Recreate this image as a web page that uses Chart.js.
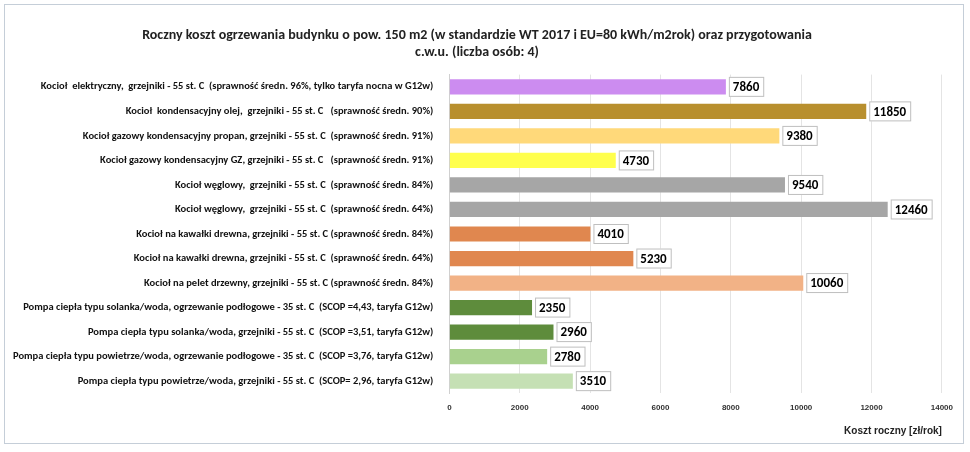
<!DOCTYPE html>
<html>
<head>
<meta charset="utf-8">
<script src="https://cdn.jsdelivr.net/npm/chart.js@4"></script>
<style>
body{margin:0;background:#fff;}
#wrap{position:absolute;left:4px;top:4px;width:960px;height:440px;border:1px solid #c5ced8;box-sizing:border-box;}
</style>
</head>
<body>
<div id="wrap"><canvas id="myChart"></canvas></div>
<script>
// dane wykresu
var categories = [
  'Kocioł  elektryczny,  grzejniki - 55 st. C  (sprawność średn. 96%, tylko taryfa nocna w G12w)',
  'Kocioł  kondensacyjny olej,  grzejniki - 55 st. C   (sprawność średn. 90%)',
  'Kocioł gazowy kondensacyjny propan, grzejniki - 55 st. C  (sprawność średn. 91%)',
  'Kocioł gazowy kondensacyjny GZ, grzejniki - 55 st. C   (sprawność średn. 91%)',
  'Kocioł węglowy,  grzejniki - 55 st. C  (sprawność średn. 84%)',
  'Kocioł węglowy,  grzejniki - 55 st. C  (sprawność średn. 64%)',
  'Kocioł na kawałki drewna, grzejniki - 55 st. C (sprawność średn. 84%)',
  'Kocioł na kawałki drewna, grzejniki - 55 st. C  (sprawność średn. 64%)',
  'Kocioł na pelet drzewny, grzejniki - 55 st. C (sprawność średn. 84%)',
  'Pompa ciepła typu solanka/woda, ogrzewanie podłogowe - 35 st. C  (SCOP =4,43, taryfa G12w)',
  'Pompa ciepła typu solanka/woda, grzejniki - 55 st. C  (SCOP =3,51, taryfa G12w)',
  'Pompa ciepła typu powietrze/woda, ogrzewanie podłogowe - 35 st. C  (SCOP =3,76, taryfa G12w)',
  'Pompa ciepła typu powietrze/woda, grzejniki - 55 st. C  (SCOP= 2,96, taryfa G12w)'
];
var costs = [7860, 11850, 9380, 4730, 9540, 12460, 4010, 5230, 10060, 2350, 2960, 2780, 3510];
var barColors = ['#cc8cf0', '#b88f2e', '#ffd97a', '#ffff4d', '#a6a6a6', '#a6a6a6', '#e0874f', '#e0874f', '#f2b286', '#5e8c3c', '#5e8c3c', '#a9d18e', '#c5e0b4'];
var xTicks = [0, 2000, 4000, 6000, 8000, 10000, 12000, 14000];

// etykiety wartości w ramkach
var valueLabels = {
  id: 'valueLabels',
  afterDatasetsDraw: function (chart) {
    var c = chart.ctx;
    var meta = chart.getDatasetMeta(0);
    c.save();
    c.font = 'bold 13px Carlito, "Liberation Sans", sans-serif';
    c.textBaseline = 'middle';
    meta.data.forEach(function (bar, i) {
      var t = String(costs[i]);
      var w = c.measureText(t).width + 8;
      var x = bar.x + 3, y = bar.y;
      c.fillStyle = '#fff';
      c.fillRect(x, y - 10, w, 20);
      c.strokeStyle = '#bfbfbf';
      c.lineWidth = 1;
      c.strokeRect(x + 0.5, y - 9.5, w, 19);
      c.fillStyle = '#000';
      c.fillText(t, x + 4, y + 1);
    });
    c.restore();
  }
};

var ctx = document.getElementById('myChart').getContext('2d');
var myChart = new Chart(ctx, {
  type: 'bar',
  data: {
    labels: categories,
    datasets: [{
      data: costs,
      backgroundColor: barColors,
      barPercentage: 0.62,
      categoryPercentage: 1
    }]
  },
  options: {
    indexAxis: 'y',
    responsive: true,
    maintainAspectRatio: false,
    animation: false,
    layout: { padding: { left: 0, right: 14, top: 4, bottom: 2 } },
    plugins: {
      legend: { display: false },
      tooltip: { enabled: false },
      title: {
        display: true,
        text: ['Roczny koszt ogrzewania budynku o pow. 150 m2 (w standardzie WT 2017 i EU=80 kWh/m2rok) oraz przygotowania', 'c.w.u. (liczba osób: 4)'],
        color: '#222',
        font: { size: 14, weight: 'bold', family: 'Carlito, "Liberation Sans", sans-serif' },
        padding: { top: 18, bottom: 14 }
      }
    },
    scales: {
      x: {
        min: 0, max: 14000,
        afterBuildTicks: function (axis) { axis.ticks = xTicks.map(function (v) { return { value: v }; }); },
        grid: { color: '#e4e4e4', drawTicks: false },
        border: { display: false },
        ticks: { color: '#333', padding: 10, callback: function (v) { return String(v); }, font: { size: 8, weight: 'bold', family: '"Liberation Sans", sans-serif' } },
        title: {
          display: true, text: 'Koszt roczny [zł/rok]', align: 'end', color: '#222',
          font: { size: 10, weight: 'bold', family: '"Liberation Sans", sans-serif' }, padding: { top: 2 }
        }
      },
      y: {
        grid: { display: false },
        border: { color: '#d0d0d0' },
        ticks: { color: '#111', autoSkip: false, padding: 8, font: { size: 10.5, weight: 'bold', family: 'Carlito, "Liberation Sans", sans-serif' } }
      }
    }
  },
  plugins: [valueLabels]
});
</script>
</body>
</html>
